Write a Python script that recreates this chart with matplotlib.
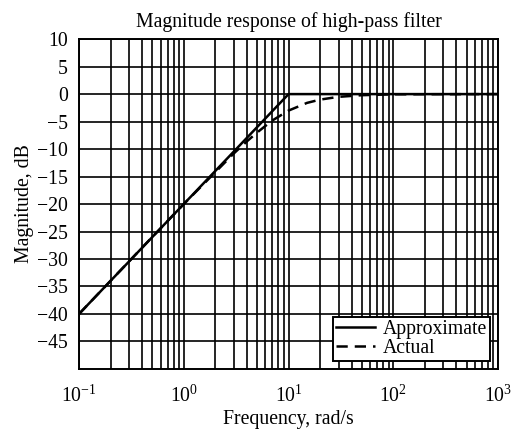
import matplotlib
matplotlib.use("Agg")
import matplotlib.pyplot as plt
from matplotlib.ticker import FixedLocator, FixedFormatter, LogLocator, NullFormatter

plt.rcParams['font.family'] = ['Liberation Serif', 'DejaVu Serif']
plt.rcParams['mathtext.fontset'] = 'custom'
plt.rcParams['mathtext.rm'] = 'Liberation Serif'
plt.rcParams['mathtext.it'] = 'Liberation Serif:italic'

# Straight-line (asymptotic) magnitude
approx_w = [0.1, 10, 1000]
approx_db = [-40, 0, 0]

# Actual magnitude response
actual_w = [0.1, 0.5, 1, 2, 3, 4, 5, 7, 10, 15, 20, 30, 50, 100, 1000]
actual_db = [-40, -26, -20, -14.2, -10.8, -8.6, -7.0, -4.8, -3.0, -1.6, -1.0, -0.5, -0.2, -0.04, 0]

x_ticks = [0.1, 1, 10, 100, 1000]
x_labels = [r'$10^{-1}$', r'$10^{0}$', r'$10^{1}$', r'$10^{2}$', r'$10^{3}$']
y_ticks = [10, 5, 0, -5, -10, -15, -20, -25, -30, -35, -40, -45]
y_labels = ['10', '5', '0', '\u22125', '\u221210', '\u221215', '\u221220', '\u221225',
            '\u221230', '\u221235', '\u221240', '\u221245']

fs = 14.2

fig = plt.figure(figsize=(5.13, 4.30), dpi=100)
ax = fig.add_axes([0.154, 0.142, 0.817, 0.767])

ax.semilogx(approx_w, approx_db, color='black', lw=1.8, label='Approximate')
ax.semilogx(actual_w, actual_db, color='black', lw=1.8, ls=(0, (4.5, 2.8)), label='Actual')

ax.set_xlim(0.1, 1000)
ax.set_ylim(-50, 10)

ax.xaxis.set_major_locator(FixedLocator(x_ticks))
ax.xaxis.set_major_formatter(FixedFormatter(x_labels))
ax.xaxis.set_minor_locator(LogLocator(base=10, subs=range(2, 10), numticks=20))
ax.xaxis.set_minor_formatter(NullFormatter())
ax.yaxis.set_major_locator(FixedLocator(y_ticks))
ax.yaxis.set_major_formatter(FixedFormatter(y_labels))

ax.grid(True, which='major', color='black', lw=1.2)
ax.grid(True, which='minor', axis='x', color='black', lw=1.2)
ax.tick_params(which='both', length=0, labelsize=fs)
ax.tick_params(axis='x', pad=12)
ax.tick_params(axis='y', pad=8)
for s in ax.spines.values():
    s.set_linewidth(1.4)

ax.set_title('Magnitude response of high-pass filter', fontsize=fs, pad=9)
ax.set_xlabel('Frequency, rad/s', fontsize=fs, labelpad=2)
ax.set_ylabel('Magnitude, dB', fontsize=fs, labelpad=2)

leg = ax.legend(loc='lower right', fontsize=fs, frameon=True, fancybox=False,
                edgecolor='black', framealpha=1, borderpad=0.15, labelspacing=0.0,
                handlelength=2.0, handletextpad=0.4, borderaxespad=0.4)
leg.get_frame().set_linewidth(1.4)

fig.savefig('out.png', dpi=100)
